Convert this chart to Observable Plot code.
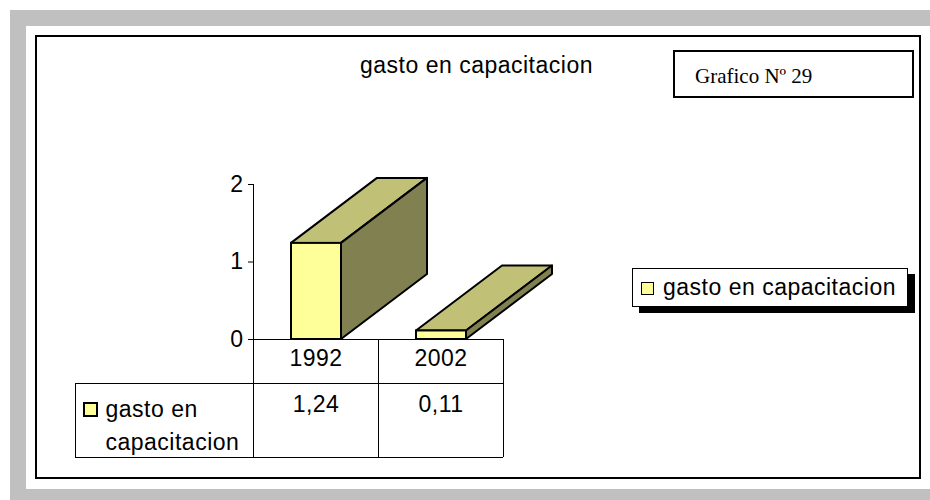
<!DOCTYPE html>
<html>
<head>
<meta charset="utf-8">
<script src="https://cdn.jsdelivr.net/npm/d3@7"></script>
<script src="https://cdn.jsdelivr.net/npm/@observablehq/plot@0.6"></script>
<style>
  html, body { margin: 0; padding: 0; background: #fff; }
  #wrap { position: relative; width: 930px; height: 500px; overflow: hidden; font-family: "Liberation Sans", Arial, sans-serif; }
  .abs { position: absolute; }
  #gray { left: 10px; top: 10px; width: 920px; height: 490px; background: #c0c0c0; z-index: 0; }
  #white { left: 26px; top: 26px; width: 904px; height: 463px; background: #fff; z-index: 0; }
  #outer { left: 35px; top: 35px; width: 886px; height: 444px; border: 2px solid #000; box-sizing: border-box; z-index: 0; }
  #title { left: 360px; font-size: 23px; line-height: 23px; letter-spacing: 0.5px; z-index: 2; white-space: nowrap; }
  #grafbox { left: 673px; top: 50px; width: 241px; height: 48px; border: 2px solid #000; box-sizing: border-box; background: #fff; z-index: 2; }
  #graf { left: 695px; font-family: "Liberation Serif", "Times New Roman", serif; font-size: 21px; line-height: 21px; z-index: 3; white-space: nowrap; }
  #legbox { left: 632px; top: 268px; width: 276px; height: 39px; border: 1px solid #000; box-sizing: border-box; background: #fff; box-shadow: 7px 6px 0 #000; z-index: 2; }
  #legkey { left: 641px; top: 282px; width: 13px; height: 13px; background: #ffff99; border: 1.5px solid #000; box-sizing: border-box; z-index: 3; }
  #legtxt { left: 663px; font-size: 23px; line-height: 23px; letter-spacing: 0.5px; z-index: 3; white-space: nowrap; }
  svg.chart { position: absolute; left: 0; top: 0; z-index: 1; }
</style>
</head>
<body>
<div id="wrap">
  <div id="gray" class="abs"></div>
  <div id="white" class="abs"></div>
  <div id="outer" class="abs"></div>
  <div id="title" class="abs"></div>
  <div id="grafbox" class="abs"></div>
  <div id="graf" class="abs"></div>
  <div id="legbox" class="abs"></div>
  <div id="legkey" class="abs"></div>
  <div id="legtxt" class="abs"></div>
</div>
<script>
// ---- data ----
const titleText = "gasto en capacitacion";
const chartNumber = "Grafico Nº 29";
const seriesName = "gasto en capacitacion";
const years = ["1992", "2002"];
const values = [1.24, 0.11];
const valueLabels = ["1,24", "0,11"];
const yTicks = [0, 1, 2];

const data = years.map((year, i) => ({year, value: values[i], label: valueLabels[i]}));

// ---- style constants ----
const FRONT = "#ffff99", TOP = "#c0c077", SIDE = "#808050";
const DEPTH_X = 86, DEPTH_Y = -65;
const INSET_L = 38, INSET_R = 37;
const FONT = "'Liberation Sans', Arial, sans-serif";
const FS = 23;

// html text overlays (baselines: title 73, graf 84, legend 295)
const t = document.getElementById("title");
t.textContent = titleText; t.style.top = "54px";
const g = document.getElementById("graf");
g.textContent = chartNumber; g.style.top = "66px";
const lt = document.getElementById("legtxt");
lt.textContent = seriesName; lt.style.top = "276px";

function bandInfo(x, dims) {
  return typeof x.bandwidth === "function" ? x.bandwidth()
    : (dims.width - dims.marginLeft - dims.marginRight) / years.length;
}

// 3D faces (top and side) drawn from the scales
function bars3D(index, scales, values, dims) {
  const {x, y} = scales;
  const bw = bandInfo(x, dims);
  const gEl = d3.create("svg:g")
    .attr("stroke", "#000").attr("stroke-width", 2).attr("stroke-linejoin", "round");
  const line = d3.line();
  for (const d of data) {
    const x0 = x(d.year) + INSET_L, x1 = x(d.year) + bw - INSET_R;
    const yv = y(d.value), y0 = y(0);
    gEl.append("path")
      .attr("d", line([[x0, yv], [x1, yv], [x1 + DEPTH_X, yv + DEPTH_Y], [x0 + DEPTH_X, yv + DEPTH_Y]]) + "Z")
      .attr("fill", TOP);
    gEl.append("path")
      .attr("d", line([[x1, yv], [x1 + DEPTH_X, yv + DEPTH_Y], [x1 + DEPTH_X, y0 + DEPTH_Y], [x1, y0]]) + "Z")
      .attr("fill", SIDE);
  }
  return gEl.node();
}

// data table grid under the plot
function tableGrid(index, scales, values, dims) {
  const {x, y} = scales;
  const bw = bandInfo(x, dims);
  const y0 = y(0), yTop = y(d3.max(yTicks));
  const left = dims.marginLeft, right = dims.width - dims.marginRight;
  const row1 = y0 + 44, row2 = y0 + 118, tableLeft = left - 178;
  const gEl = d3.create("svg:g").attr("stroke", "#000").attr("stroke-width", 1).attr("fill", "none")
    .attr("shape-rendering", "crispEdges");
  const seg = (a, b, c, e) => gEl.append("line").attr("x1", a).attr("y1", b).attr("x2", c).attr("y2", e);
  seg(left, yTop, left, row2);
  for (const yr of years) seg(x(yr) + bw, y0, x(yr) + bw, row2);
  seg(left, y0, right, y0);
  seg(tableLeft, row1, right, row1);
  seg(tableLeft, row2, right, row2);
  seg(tableLeft, row1, tableLeft, row2);
  // legend key inside table
  gEl.append("rect").attr("x", tableLeft + 9).attr("y", y0 + 64).attr("width", 13).attr("height", 13)
    .attr("fill", FRONT).attr("stroke-width", 1.5).attr("shape-rendering", null);
  return gEl.node();
}

const chart = Plot.plot({
  width: 930, height: 500,
  marginLeft: 253, marginRight: 427, marginTop: 184, marginBottom: 161,
  x: {type: "band", domain: years, padding: 0, axis: null},
  y: {domain: [0, 2]},
  style: {background: "transparent", fontFamily: FONT, fontSize: FS + "px", letterSpacing: "0.5px", color: "#000", overflow: "visible"},
  marks: [
    tableGrid,
    bars3D,
    Plot.barY(data, {x: "year", y: "value", fill: FRONT, stroke: "#000", strokeWidth: 2, insetLeft: INSET_L, insetRight: INSET_R}),
    Plot.axisY({ticks: yTicks, tickSize: 5, tickPadding: 5, tickFormat: d => String(d), label: null, fontSize: FS, stroke: "#000"}),
    Plot.text(data, {x: "year", text: "year", frameAnchor: "bottom", dy: 26, fontSize: FS, fill: "#000"}),
    Plot.text(data, {x: "year", text: "label", frameAnchor: "bottom", dy: 72, fontSize: FS, fill: "#000"}),
    Plot.text([seriesName.replace(" capacitacion", "\ncapacitacion")], {text: d => d, frameAnchor: "bottom-left", textAnchor: "start", lineAnchor: "top", lineHeight: 33 / FS, dx: -148, dy: 54, fontSize: FS, fill: "#000"})
  ]
});
chart.classList.add("chart");
document.getElementById("wrap").appendChild(chart);
</script>
</body>
</html>
